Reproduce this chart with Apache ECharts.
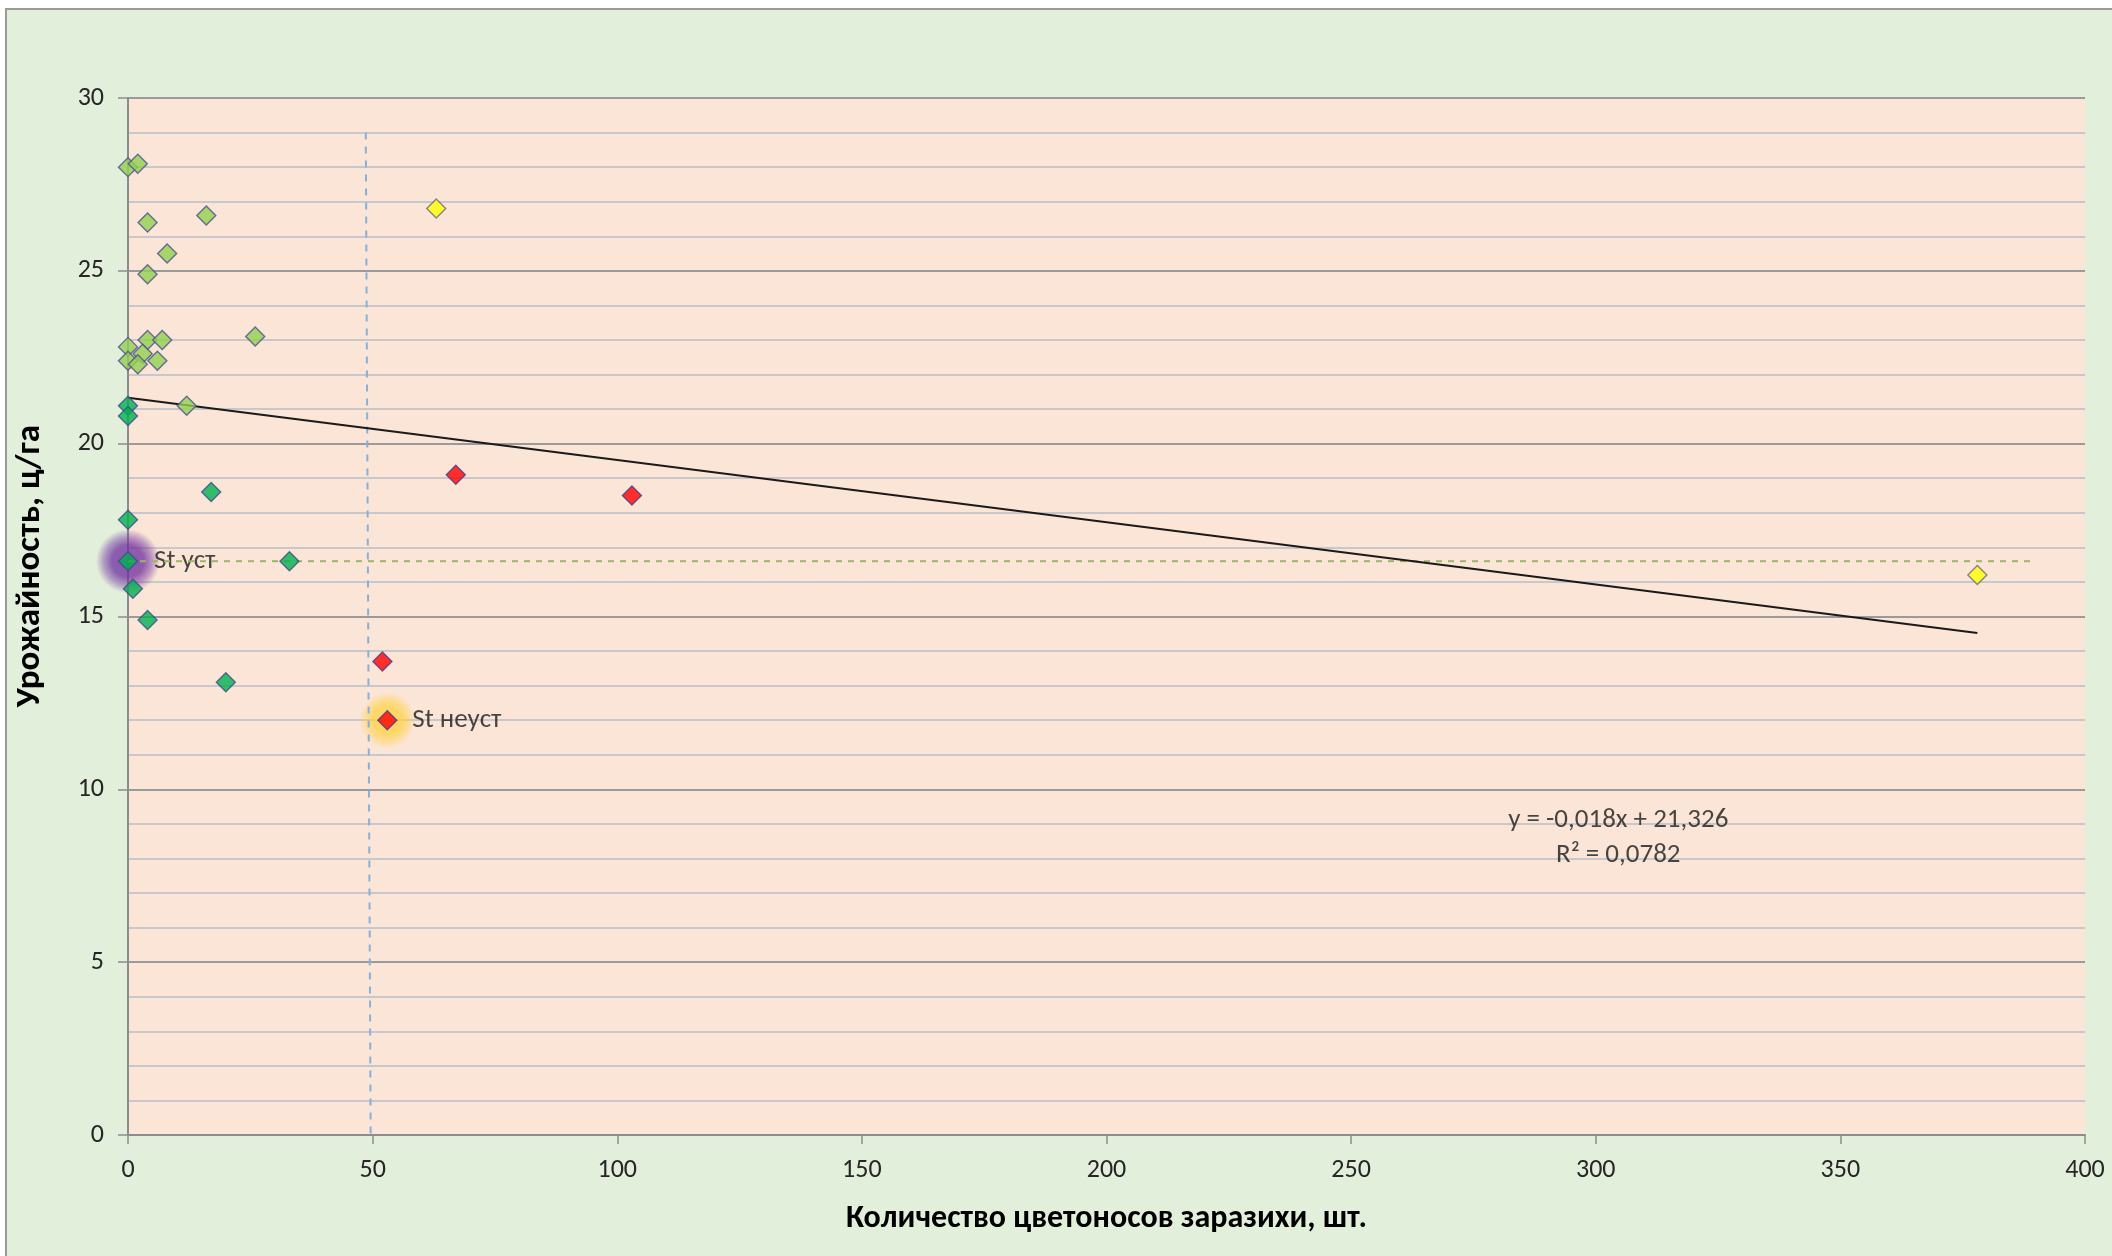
<!DOCTYPE html>
<html>
<head>
<meta charset="utf-8">
<script src="https://cdn.jsdelivr.net/npm/echarts@6/dist/echarts.min.js"></script>
<style>
html,body{margin:0;padding:0;background:#ffffff;}
#wrap{position:absolute;left:5px;top:8px;width:2107px;height:1248px;background:#e2efda;border-left:2px solid #9a9a9a;border-top:2px solid #9a9a9a;box-sizing:border-box;}
#chart{position:absolute;left:0;top:0;width:100%;height:100%;}
</style>
</head>
<body>
<div id="wrap"><div id="chart"></div></div>
<script>
// ---- data ----
const lightGreen = [[0,28.0],[2,28.1],[4,26.4],[16,26.6],[8,25.5],[4,24.9],[0,22.8],[4,23.0],[7,23.0],[3,22.6],[0,22.4],[2,22.3],[6,22.4],[26,23.1],[12,21.1]];
const darkGreen = [[0,21.1],[0,20.8],[17,18.6],[0,17.8],[0,16.6],[33,16.6],[1,15.8],[4,14.9],[20,13.1]];
const redPts = [[52,13.7],[67,19.1],[103,18.5],[53,12.0]];
const yellowPts = [[63,26.8],[378,16.2]];
const stStable = [[0,16.6]];
const stUnstable = [[53,12.0]];
const trendSlope = -0.018;
const trendIntercept = 21.326;
const trendRange = [0,378];
const stLine = [[0,16.6],[390,16.6]];
const fiftyLine = [[48.6,29],[49.6,0]];
const eqPos = [[304.6,8.6]];
const eqText = ['y = -0,018x + 21,326','R² = 0,0782'];
const xTicks = [0,50,100,150,200,250,300,350,400];
const yTicks = [0,5,10,15,20,25,30];
const xTitle = 'Количество цветоносов заразихи, шт.';
const yTitle = 'Урожайность, ц/га';

const FONT = 'Carlito, Lato, "Open Sans", sans-serif';
const trendData = trendRange.map(x => [x, trendIntercept + trendSlope * x]);

const chart = echarts.init(document.getElementById('chart'));
const markerBase = {type:'scatter', symbol:'diamond', symbolSize:19, clip:false, z:5};
function glow(rgb){
  return {type:'radial', x:0.5, y:0.5, r:0.5, colorStops:[
    {offset:0, color:'rgba('+rgb+',1)'},
    {offset:0.5, color:'rgba('+rgb+',0.95)'},
    {offset:0.75, color:'rgba('+rgb+',0.55)'},
    {offset:1, color:'rgba('+rgb+',0)'}]};
}
chart.setOption({
  backgroundColor:'transparent',
  animation:false,
  grid:{left:121, right:27, top:88, bottom:121, show:true, backgroundColor:'#fbe5d6', borderWidth:0},
  graphic:[{type:'text', x:23, y:556, rotation:Math.PI/2, z:10,
    style:{text:yTitle, fontFamily:FONT, fontSize:35, fontWeight:'bold', fill:'#000', align:'center', verticalAlign:'middle'}}],
  xAxis:{
    type:'value', min:xTicks[0], max:xTicks[xTicks.length-1], interval:50,
    name:xTitle, nameLocation:'middle', nameGap:68,
    nameTextStyle:{fontFamily:FONT, fontSize:32, fontWeight:'bold', color:'#000'},
    axisLine:{show:true, onZero:false, lineStyle:{color:'#8c8c8c', width:2}},
    axisTick:{show:true, length:9, lineStyle:{color:'#8c8c8c', width:1.5}},
    axisLabel:{fontFamily:FONT, fontSize:26, color:'#262626', margin:22},
    splitLine:{show:false}
  },
  yAxis:{
    type:'value', min:yTicks[0], max:yTicks[yTicks.length-1], interval:5,
    axisLine:{show:true, onZero:false, lineStyle:{color:'#8c8c8c', width:2}},
    axisTick:{show:true, length:10, inside:false, lineStyle:{color:'#8c8c8c', width:1.5}},
    axisLabel:{fontFamily:FONT, fontSize:26, color:'#262626', margin:24},
    splitLine:{show:true, lineStyle:{color:'#9a9a9a', width:2}},
    minorTick:{show:false, splitNumber:5},
    minorSplitLine:{show:true, lineStyle:{color:'#c8c8cc', width:2}}
  },
  series:[
    {type:'scatter', data:stStable, symbol:'circle', symbolSize:64, clip:false, z:2,
      itemStyle:{color:glow('112,48,160')}, silent:true,
      label:{show:true, position:'right', distance:-6, formatter:'St уст', fontFamily:FONT, fontSize:27, color:'#1a1a1a'}},
    {type:'scatter', data:stUnstable, symbol:'circle', symbolSize:56, clip:false, z:2,
      itemStyle:{color:glow('255,210,70')}, silent:true,
      label:{show:true, position:'right', distance:-3, formatter:'St неуст', fontFamily:FONT, fontSize:27, color:'#1a1a1a'}},
    {type:'line', data:stLine, showSymbol:false, symbol:'none', z:3,
      lineStyle:{color:'#9bb56b', width:2, type:[6,6]}},
    {type:'line', data:fiftyLine, showSymbol:false, symbol:'none', z:3,
      lineStyle:{color:'#86b0dc', width:2, type:[7,7]}},
    {type:'line', data:trendData, showSymbol:false, symbol:'none', z:4,
      lineStyle:{color:'#1a1a1a', width:2}},
    Object.assign({}, markerBase, {data:lightGreen, itemStyle:{color:'#92d050', borderColor:'#4b4f8f', borderWidth:1.4}}),
    Object.assign({}, markerBase, {data:darkGreen, itemStyle:{color:'#00b050', borderColor:'#3d4d8a', borderWidth:1.4}}),
    Object.assign({}, markerBase, {data:redPts, itemStyle:{color:'#ff0000', borderColor:'#4a3a8a', borderWidth:1.4}}),
    Object.assign({}, markerBase, {data:yellowPts, itemStyle:{color:'#ffff00', borderColor:'#6a6a80', borderWidth:1.4}}),
    {type:'scatter', data:eqPos, symbolSize:0, clip:false, silent:true, z:6,
      label:{show:true, position:'inside', formatter:eqText.join('\n'), fontFamily:FONT, fontSize:27, lineHeight:35, align:'center', color:'#1a1a1a'}}
  ]
});
</script>
</body>
</html>
